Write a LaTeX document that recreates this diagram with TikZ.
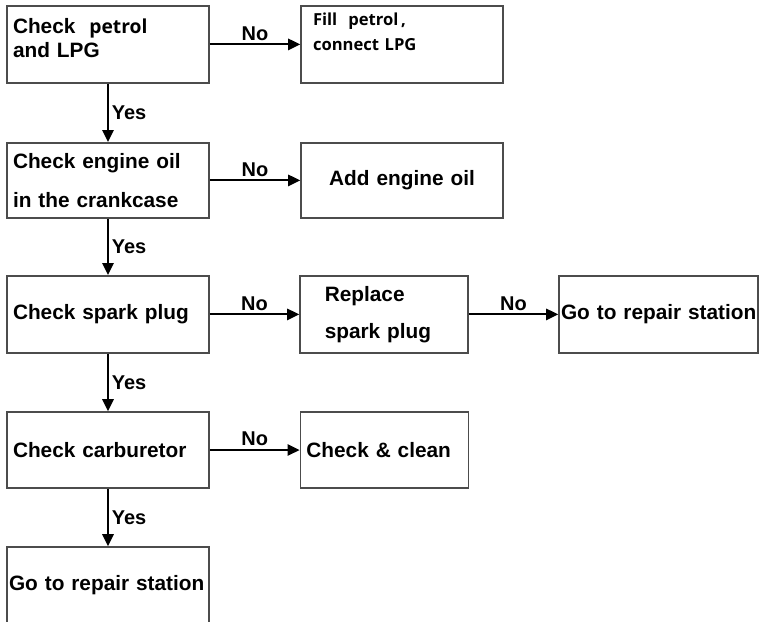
\documentclass[tikz,border=0pt]{standalone}
\usepackage{fontspec}
\setmainfont{Liberation Sans}
\newfontfamily\opensans{Open Sans}
\usetikzlibrary{arrows.meta}

\begin{document}
\begin{tikzpicture}[
    box/.style={draw=black!70, line width=1.1pt, align=left, inner ysep=0pt,
                minimum height=1.9cm, font=\bfseries\fontsize{14.8}{18}\selectfont},
    yn/.style={-{Triangle[length=0.3cm, width=0.28cm]}, line width=1.5pt},
    lbl/.style={font=\bfseries\fontsize{14.2}{16}\selectfont, inner sep=2pt, midway}
  ]
  \clip (0,0) rectangle (19,-15.525);
  % left column: checks
  \node[box, inner xsep=0.15cm, text width=4.75cm, minimum height=1.93cm] (petrol) at (2.7,-1.11)
    {Check {\opensans\fontsize{13.7}{15}\selectfont\ petrol}\\[-1pt]and LPG\rule[-0.3cm]{0pt}{0.3cm}};
  \node[box, inner xsep=0.15cm, text width=4.75cm, minimum height=1.88cm] (oil) at (2.7,-4.51)
    {Check engine oil\\[10pt]in the crankcase};
  \node[box, inner xsep=0.15cm, text width=4.75cm, minimum height=1.93cm] (plug) at (2.7,-7.86)
    {Check spark plug};
  \node[box, inner xsep=0.15cm, text width=4.75cm] (carb) at (2.7,-11.25)
    {Check carburetor};
  \node[box, inner xsep=0.05cm, text width=4.95cm, minimum height=1.93cm] (repairA) at (2.7,-14.64)
    {\mbox{Go to repair station}};
  % right column: fixes
  \node[box, inner xsep=0.3cm, text width=4.45cm, minimum height=1.93cm,
        font=\opensans\bfseries\fontsize{11.8}{18}\selectfont] (fill) at (10.05,-1.11)
    {Fill\ \ petrol\,,\\connect LPG\rule[-0.62cm]{0pt}{0.62cm}};
  \node[box, align=center, inner xsep=0.15cm, text width=4.75cm, minimum height=1.88cm] (addoil) at (10.05,-4.51)
    {Add engine oil};
  \node[box, inner xsep=0.62cm, text width=2.96cm, minimum height=1.93cm] (replace) at (9.6,-7.86)
    {Replace\\[8pt]spark plug};
  \node[box, inner xsep=0.15cm, text width=3.9cm] (clean) at (9.61,-11.25)
    {Check \& clean};
  \node[box, inner xsep=0.05cm, text width=4.87cm, minimum height=1.93cm] (repairB) at (16.46,-7.86)
    {\mbox{Go to repair station}};

  \draw[yn] (petrol) -- node[lbl, above=0pt] {No} (fill);
  \draw[yn] (oil)    -- node[lbl, above=0pt] {No} (addoil);
  \draw[yn] (plug)   -- node[lbl, above=0pt] {No} (replace);
  \draw[yn] (replace) -- node[lbl, above=0pt] {No} (repairB);
  \draw[yn] (carb)   -- node[lbl, above=0pt] {No} (clean);
  \draw[yn] (petrol) -- node[lbl, right] {Yes} (oil);
  \draw[yn] (oil)    -- node[lbl, right] {Yes} (plug);
  \draw[yn] (plug)   -- node[lbl, right] {Yes} (carb);
  \draw[yn] (carb)   -- node[lbl, right] {Yes} (repairA);
\end{tikzpicture}
\end{document}
